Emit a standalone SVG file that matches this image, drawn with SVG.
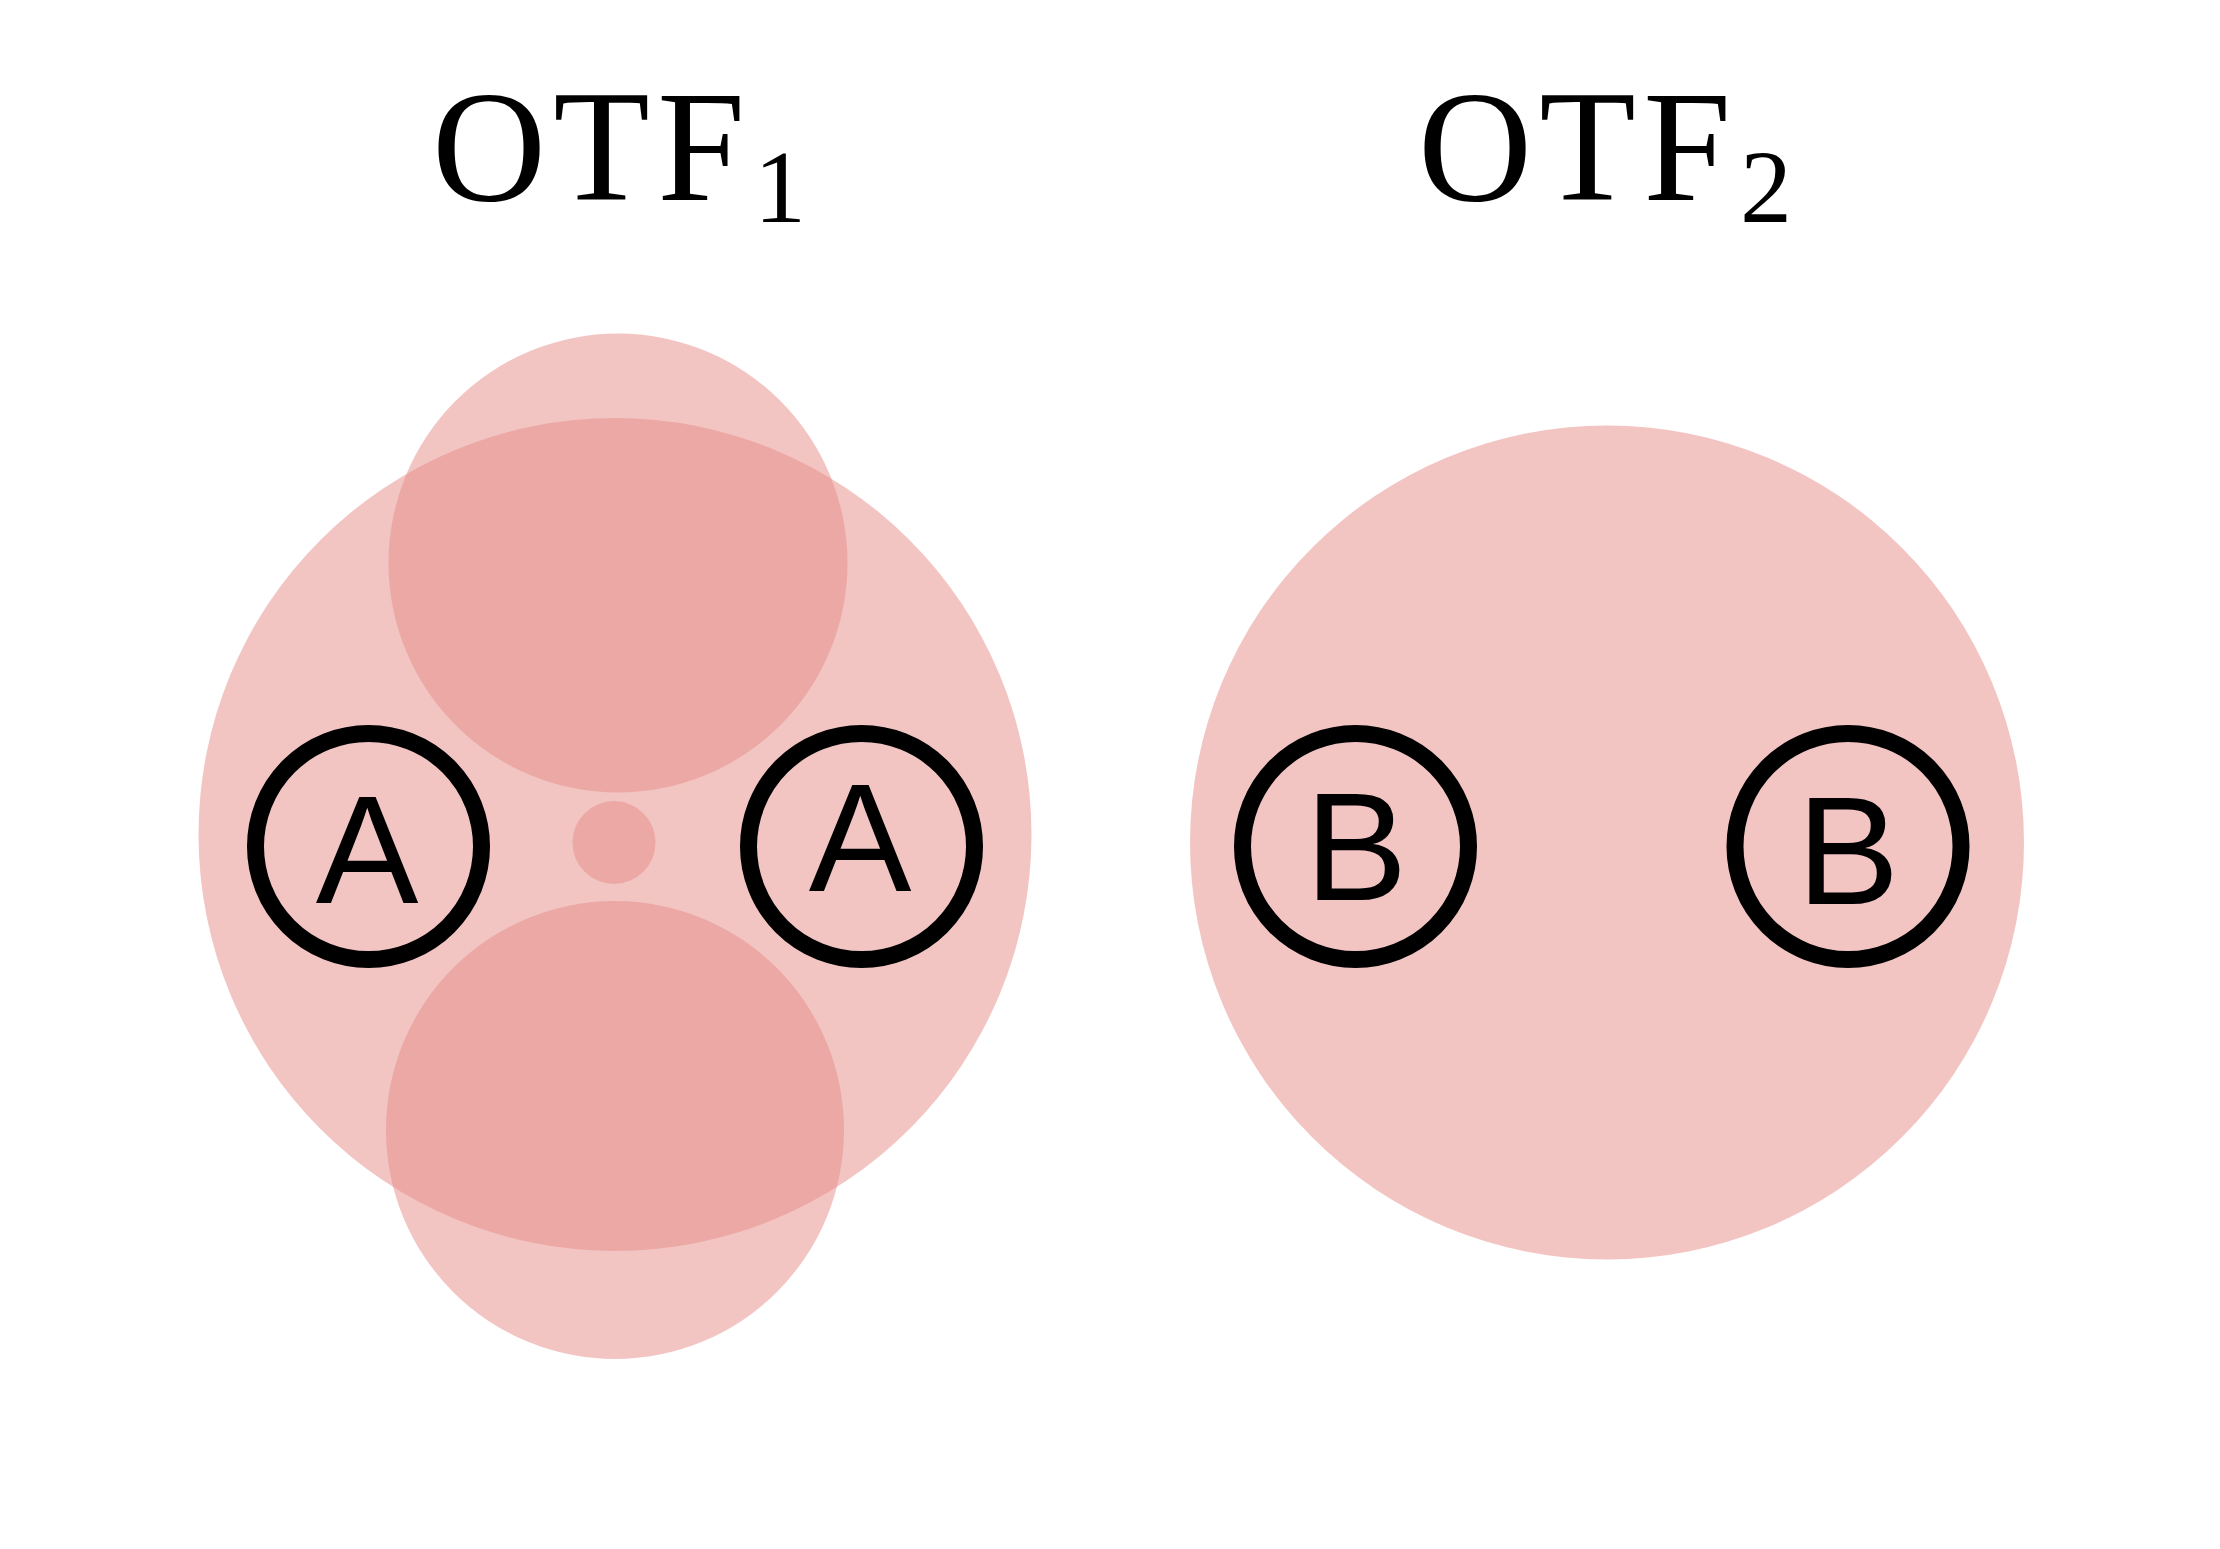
<svg xmlns="http://www.w3.org/2000/svg" width="2220" height="1549" viewBox="0 0 2220 1549">
<style>
.blob{fill:#e58b87;fill-opacity:0.5}
.ring{fill:none;stroke:#000;stroke-width:17}
.lbl{font-family:"Liberation Sans",Arial,sans-serif;font-size:154px;fill:#000;text-anchor:middle}
.title{font-family:"Liberation Serif","Times New Roman",Times,serif;font-size:158px;fill:#000}
.sub{font-family:"Liberation Serif","Times New Roman",Times,serif;font-size:104px;fill:#000;text-anchor:middle}
</style>
<rect width="2220" height="1549" fill="#fff"/>
<g id="title1"><text class="title" x="432" y="200" textLength="313" lengthAdjust="spacing">OTF</text><text class="sub" x="780" y="222">1</text></g>
<g id="title2"><text class="title" x="1418" y="200" textLength="313" lengthAdjust="spacing">OTF</text><text class="sub" x="1766" y="222">2</text></g>
<g id="otf1">
<circle id="otf1-big" class="blob" cx="615" cy="834.5" r="416.5"/>
<circle id="otf1-top" class="blob" cx="618" cy="563" r="229.5"/>
<circle id="otf1-bottom" class="blob" cx="615" cy="1130" r="229"/>
<circle id="otf1-center" class="blob" cx="614" cy="842.5" r="41.5"/>
</g>
<g id="otf2">
<circle id="otf2-big" class="blob" cx="1607" cy="842.5" r="417"/>
</g>
<g id="nodeA1"><circle class="ring" cx="368.5" cy="846.5" r="113"/><text class="lbl" x="367" y="903">A</text></g>
<g id="nodeA2"><circle class="ring" cx="861.5" cy="846.5" r="113"/><text class="lbl" x="860" y="891">A</text></g>
<g id="nodeB1"><circle class="ring" cx="1355.5" cy="846.5" r="113"/><text class="lbl" x="1356" y="900">B</text></g>
<g id="nodeB2"><circle class="ring" cx="1848" cy="846.5" r="113"/><text class="lbl" x="1848" y="904">B</text></g>
<g id="connectors"></g>
</svg>
